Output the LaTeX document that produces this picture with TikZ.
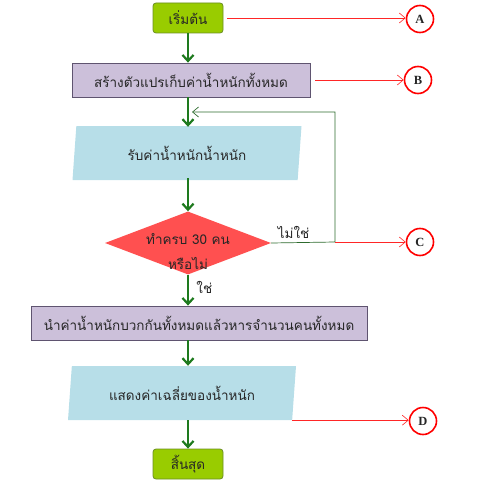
\documentclass[tikz,border=0pt]{standalone}
\usepackage{fontspec}
\newfontfamily\thaifont[Script=Thai]{Loma}
\newfontfamily\markfont{Liberation Serif}
\usetikzlibrary{shapes.geometric,arrows.meta}
\definecolor{termgreen}{HTML}{99CC00}
\definecolor{termedge}{HTML}{6B8E23}
\definecolor{procfill}{HTML}{CCC0DA}
\definecolor{procedge}{HTML}{5F5470}
\definecolor{iofill}{HTML}{B7DEE8}
\definecolor{decfill}{HTML}{FF5050}
\definecolor{flowgreen}{HTML}{1E7A1E}
\definecolor{loopgreen}{HTML}{2E6B2E}
\begin{document}
\begin{tikzpicture}[x=1pt,y=-1pt,
  every node/.style={font=\thaifont\fontsize{13.5}{15}\selectfont,text=black!85},
  term/.style={draw=termedge,fill=termgreen,rounded corners=3pt,minimum width=70pt,minimum height=30pt,line width=0.8pt},
  proc/.style={draw=procedge,fill=procfill,minimum height=34pt,line width=0.8pt},
  io/.style={trapezium,trapezium left angle=75,trapezium right angle=105,trapezium stretches body,fill=iofill,minimum height=54pt,inner sep=0pt},
  decide/.style={diamond,fill=decfill,minimum width=166pt,minimum height=63pt,inner sep=0pt},
  refmark/.style={circle,draw=red,line width=1.6pt,fill=white,minimum size=27pt,inner sep=0pt,font=\markfont\bfseries\fontsize{12.5}{14}\selectfont},
  flow/.style={draw=flowgreen,line width=2.2pt,-{Straight Barb[length=6pt,width=11pt]}},
  note/.style={draw=red!85,line width=0.6pt,-{Straight Barb[length=6pt,width=10pt]}},
  back/.style={draw=loopgreen,line width=0.7pt,-{Straight Barb[length=6pt,width=10pt]}}]
  \useasboundingbox (0,0) rectangle (482,492);

  \node[term] (start) at (188,18) {เริ่มต้น};
  \node[proc,minimum width=238pt] (vars) at (191,80) {สร้างตัวแปรเก็บค่าน้ำหนักทั้งหมด};
  \node[io,minimum width=229pt] (read) at (187,153) {รับค่าน้ำหนักน้ำหนัก};
  \node[decide] (dec) at (188,243) {};
  \node[align=center] (dectext) at (188,252) {ทำครบ 30 คน\\[10pt]หรือไม่};
  \node[proc,minimum width=336pt] (calc) at (199,323) {นำค่าน้ำหนักบวกกันทั้งหมดแล้วหารจำนวนคนทั้งหมด};
  \node[io,minimum width=228pt] (show) at (182,393) {แสดงค่าเฉลี่ยของน้ำหนัก};
  \node[term] (stop) at (188,464) {สิ้นสุด};

  \node[refmark] (A) at (420,19) {A};
  \node[refmark] (B) at (418,80) {B};
  \node[refmark] (C) at (420,242) {C};
  \node[refmark] (D) at (423,421) {D};

  \coordinate (corner) at (335,242);
  \coordinate (top) at (192,112);

  \draw[flow] (start.south) -- (start.south |- vars.north);
  \draw[flow] (start.south |- vars.south) -- ([yshift=-1pt]start.south |- read.north);
  \draw[flow] ([yshift=2pt]start.south |- read.south) -- (dec.north);
  \draw[flow] (dec.south) -- node[right,pos=0.4,xshift=4pt] (yes) {ใช่} (dec.south |- calc.north);
  \draw[flow] (start.south |- calc.south) -- (start.south |- show.north);
  \draw[flow] (start.south |- show.south) -- (stop.north);

  \draw[back] (dec.east) -- node[above,pos=0.35] (no) {ไม่ใช่} (corner) |- (top);

  \draw[note] ([xshift=4pt]start.east) -- (start.east -| A.west);
  \draw[note] ([xshift=5pt]vars.east) -- (vars.east -| B.west);
  \draw[note] (corner) -- (C.west);
  \draw[note] (show.bottom right corner) -- (show.bottom right corner -| D.west);
\end{tikzpicture}
\end{document}
